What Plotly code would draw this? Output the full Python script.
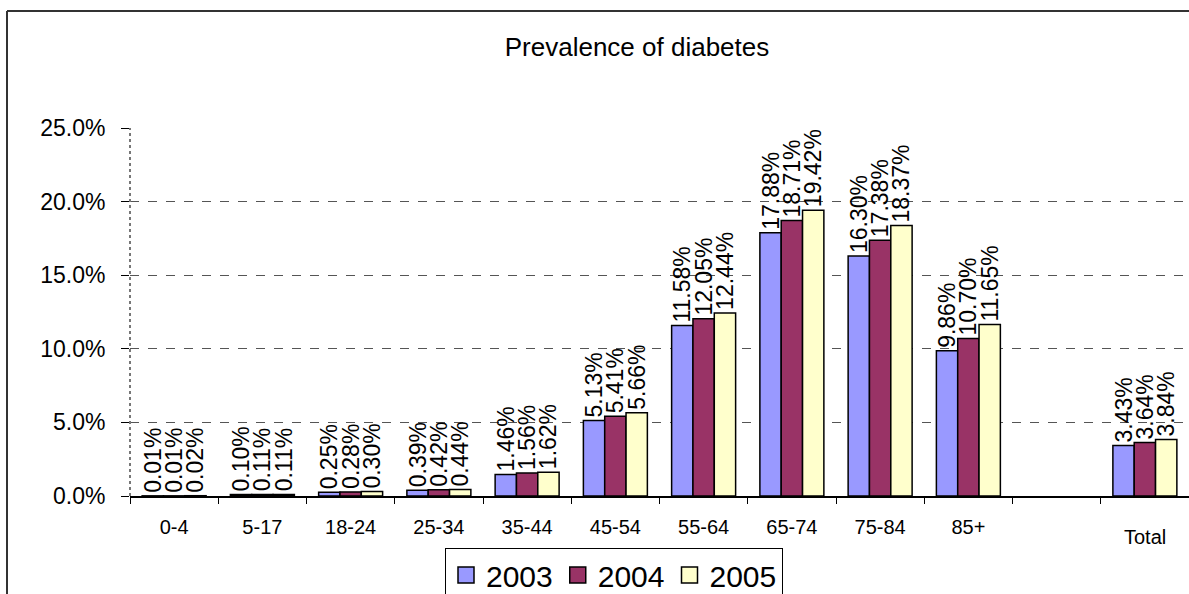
import plotly.graph_objects as go

# Age groups (blank slot separates the age groups from the total)
categories = ["0-4", "5-17", "18-24", "25-34", "35-44", "45-54", "55-64",
              "65-74", "75-84", "85+", " ", "Total"]
years = ["2003", "2004", "2005"]

# Prevalence of diabetes, percent
prev_2003 = [0.01, 0.10, 0.25, 0.39, 1.46, 5.13, 11.58, 17.88, 16.30, 9.86, None, 3.43]
prev_2004 = [0.01, 0.11, 0.28, 0.42, 1.56, 5.41, 12.05, 18.71, 17.38, 10.70, None, 3.64]
prev_2005 = [0.02, 0.11, 0.30, 0.44, 1.62, 5.66, 12.44, 19.42, 18.37, 11.65, None, 3.84]

y_ticks = [0, 5, 10, 15, 20, 25]
y_ticktext = [f"{v:.1f}%" for v in y_ticks]

colors = ["#9999FF", "#993366", "#FFFFCC"]
FONT = "Liberation Sans, Arial, Helvetica, sans-serif"

W, H = 1189, 594
ML, MR, MT, MB = 130, 0, 128, 98
plot_w = W - ML - MR
plot_h = H - MT - MB


def px_x(px):
    return (px - ML) / plot_w


def px_y(py):
    return (H - MB - py) / plot_h


fig = go.Figure()

for name, vals, col in zip(years, [prev_2003, prev_2004, prev_2005], colors):
    fig.add_trace(go.Bar(
        x=categories,
        y=vals,
        name=name,
        marker=dict(color=col, line=dict(color="black", width=1.5)),
        text=[f"{v:.2f}%" if v is not None else "" for v in vals],
        textposition="outside",
        textangle=-90,
        textfont=dict(family=FONT, size=23, color="black"),
        constraintext="none",
        cliponaxis=False,
        showlegend=False,
    ))
    # legend entry with a larger square swatch
    fig.add_trace(go.Scatter(
        x=[None], y=[None], mode="markers", name=name,
        marker=dict(symbol="square", size=16, color=col,
                    line=dict(color="black", width=1.5)),
        showlegend=True,
    ))

fig.update_layout(
    width=W, height=H,
    margin=dict(l=ML, r=MR, t=MT, b=MB, pad=0, autoexpand=False),
    paper_bgcolor="white",
    plot_bgcolor="white",
    font=dict(family=FONT, color="black"),
    barmode="group",
    bargap=0.275,
    bargroupgap=0,
    title=dict(text="Prevalence of diabetes", x=637 / W,
               xanchor="center", y=1 - 47 / H, yanchor="middle",
               font=dict(family=FONT, size=26, color="black")),
    legend=dict(orientation="h", x=px_x(445), xanchor="left",
                y=px_y(548), yanchor="top",
                bordercolor="black", borderwidth=1, bgcolor="white",
                font=dict(family=FONT, size=30, color="black"),
                itemsizing="trace", traceorder="normal"),
    xaxis=dict(
        type="category",
        categoryorder="array", categoryarray=categories,
        tickmode="array", tickvals=categories,
        ticktext=[c if c != "Total" else "" for c in categories],
        tickson="boundaries",
        ticks="outside", ticklen=6, tickcolor="black", tickwidth=1,
        ticklabelstandoff=12,
        tickfont=dict(family=FONT, size=20, color="black"),
        showline=True, linecolor="black", linewidth=1.5,
        showgrid=False, zeroline=False,
        range=[-0.5, len(categories) - 0.5],
    ),
    yaxis=dict(
        range=[0, 25.001],
        tickmode="array", tickvals=y_ticks, ticktext=y_ticktext,
        ticks="outside", ticklen=8, tickcolor="black", tickwidth=1,
        ticklabelstandoff=11,
        tickfont=dict(family=FONT, size=23, color="black"),
        showgrid=True, gridcolor="#555555", gridwidth=1, griddash="dash",
        showline=False, zeroline=False,
    ),
    shapes=[
        # dotted left axis line
        dict(type="line", xref="paper", yref="paper", x0=0, x1=0, y0=0, y1=1,
             line=dict(color="#777777", width=2, dash="dot"), layer="above"),
        # chart-area frame (left and top edges)
        dict(type="line", xref="paper", yref="paper",
             x0=px_x(7), x1=px_x(7), y0=px_y(11), y1=px_y(H + 5),
             line=dict(color="#333333", width=2)),
        dict(type="line", xref="paper", yref="paper",
             x0=px_x(7), x1=px_x(W + 5), y0=px_y(11), y1=px_y(11),
             line=dict(color="#333333", width=2)),
    ],
    annotations=[
        dict(text="Total", x="Total", xref="x", y=px_y(537), yref="paper",
             xanchor="center", yanchor="middle", showarrow=False,
             font=dict(family=FONT, size=20, color="black")),
    ],
)

fig.write_html("out.html")
